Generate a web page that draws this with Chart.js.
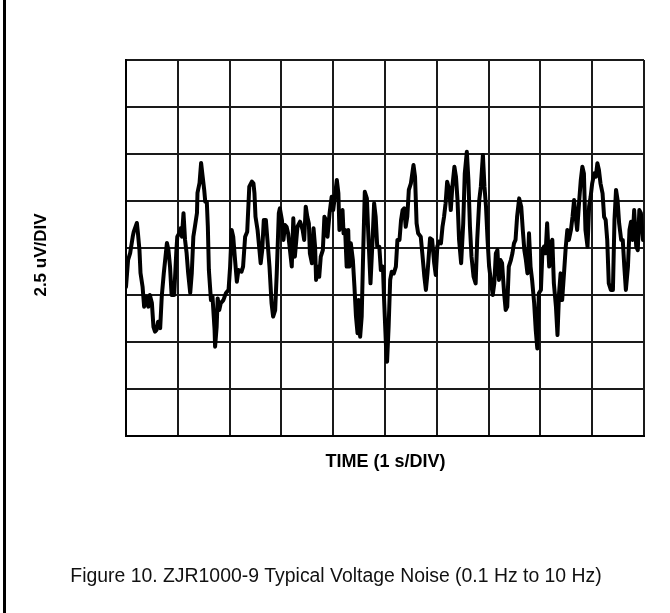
<!DOCTYPE html>
<html>
<head>
<meta charset="utf-8">
<title>ZJR1000-9 Voltage Noise</title>
<script src="https://cdn.jsdelivr.net/npm/chart.js@4.4.1/dist/chart.umd.min.js"></script>
<style>
  html, body { margin: 0; padding: 0; background: #fff; }
  #wrap { position: relative; width: 670px; height: 613px; }
</style>
</head>
<body>
<div id="wrap"><canvas id="noiseChart" width="670" height="613"></canvas></div>
<script>
// 0.1 Hz to 10 Hz noise capture, 10 s across the screen
const secPerDiv = 1;
const uvPerDiv = 2.5;
const xDivs = 10;
const yDivs = 8;

const xTitle = 'TIME (1 s/DIV)';
const yTitle = '2.5 uV/DIV';
const caption = 'Figure 10. ZJR1000-9 Typical Voltage Noise (0.1 Hz to 10 Hz)';

// sample times (s)
const timeSec = [
  0.00, 0.04, 0.08, 0.13, 0.15, 0.21, 0.23, 0.26, 0.28, 0.32,
  0.35, 0.39, 0.43, 0.46, 0.50, 0.53, 0.56, 0.59, 0.62, 0.66,
  0.69, 0.73, 0.79, 0.82, 0.85, 0.88, 0.93, 0.97, 0.99, 1.03,
  1.06, 1.08, 1.11, 1.14, 1.17, 1.20, 1.24, 1.27, 1.30, 1.33,
  1.37, 1.38, 1.42, 1.45, 1.48, 1.51, 1.53, 1.56, 1.58, 1.60,
  1.64, 1.67, 1.71, 1.72, 1.75, 1.77, 1.80, 1.83, 1.88, 1.93,
  1.98, 2.01, 2.04, 2.07, 2.10, 2.14, 2.17, 2.23, 2.26, 2.30,
  2.34, 2.38, 2.43, 2.46, 2.48, 2.50, 2.54, 2.57, 2.60, 2.63,
  2.66, 2.70, 2.73, 2.77, 2.81, 2.84, 2.88, 2.91, 2.95, 2.97,
  3.01, 3.04, 3.07, 3.10, 3.13, 3.20, 3.23, 3.26, 3.31, 3.36,
  3.41, 3.44, 3.47, 3.50, 3.53, 3.55, 3.59, 3.62, 3.65, 3.67,
  3.69, 3.73, 3.76, 3.80, 3.83, 3.86, 3.89, 3.93, 3.97, 4.00,
  4.04, 4.07, 4.10, 4.12, 4.15, 4.18, 4.20, 4.23, 4.26, 4.29,
  4.31, 4.34, 4.38, 4.41, 4.44, 4.47, 4.49, 4.52, 4.55, 4.58,
  4.61, 4.65, 4.68, 4.72, 4.76, 4.79, 4.82, 4.85, 4.89, 4.92,
  4.96, 4.98, 5.02, 5.04, 5.07, 5.10, 5.13, 5.17, 5.21, 5.24,
  5.28, 5.31, 5.34, 5.37, 5.40, 5.43, 5.46, 5.50, 5.55, 5.58,
  5.61, 5.64, 5.69, 5.72, 5.76, 5.79, 5.82, 5.87, 5.91, 5.95,
  5.98, 6.01, 6.04, 6.08, 6.11, 6.14, 6.17, 6.20, 6.24, 6.27,
  6.30, 6.34, 6.37, 6.40, 6.43, 6.47, 6.51, 6.54, 6.58, 6.61,
  6.64, 6.67, 6.71, 6.75, 6.78, 6.82, 6.85, 6.89, 6.92, 6.95,
  6.98, 7.01, 7.05, 7.08, 7.11, 7.14, 7.17, 7.20, 7.23, 7.26,
  7.30, 7.33, 7.36, 7.39, 7.43, 7.46, 7.49, 7.52, 7.55, 7.59,
  7.63, 7.66, 7.69, 7.72, 7.75, 7.78, 7.81, 7.84, 7.88, 7.91,
  7.94, 7.97, 8.01, 8.04, 8.07, 8.10, 8.13, 8.17, 8.20, 8.23,
  8.26, 8.30, 8.33, 8.36, 8.39, 8.42, 8.46, 8.49, 8.52, 8.55,
  8.59, 8.62, 8.65, 8.68, 8.71, 8.75, 8.78, 8.81, 8.84, 8.87,
  8.91, 8.94, 8.97, 9.00, 9.04, 9.07, 9.10, 9.13, 9.16, 9.20,
  9.23, 9.26, 9.29, 9.32, 9.36, 9.40, 9.43, 9.46, 9.49, 9.52,
  9.56, 9.59, 9.62, 9.65, 9.69, 9.72, 9.75, 9.78, 9.81, 9.85,
  9.88, 9.91, 9.94, 9.98, 10.00
];

// output noise (uV)
const noiseUv = [
  -2.06, -0.64, -0.27, 0.60, 0.87, 1.33, 0.80, -0.11, -1.33, -2.06,
  -3.12, -2.59, -3.12, -2.50, -2.93, -4.19, -4.45, -4.36, -3.92, -4.26,
  -2.59, -1.33, 0.27, -0.11, -0.99, -2.50, -2.50, -0.27, 0.60, 0.80,
  1.06, 0.60, 1.85, 0.43, -0.27, -1.33, -2.39, -1.33, 0.60, 1.13,
  1.86, 2.93, 3.46, 4.52, 3.79, 3.09, 2.46, 2.46, 1.13, -1.17,
  -2.77, -2.59, -4.36, -5.25, -4.19, -2.68, -3.30, -2.93, -2.77, -2.39,
  -2.23, -0.99, 0.96, 0.60, -0.46, -1.79, -1.17, -1.26, -0.99, 0.60,
  0.87, 3.26, 3.53, 3.44, 2.91, 1.66, 0.96, 0.07, -0.81, -0.11,
  1.49, 1.49, 0.43, -0.99, -2.94, -3.65, -3.30, -1.35, 1.85, 2.11,
  1.49, 0.43, 1.22, 1.13, 0.78, -0.99, 1.58, -0.46, 1.13, 1.40,
  0.96, 0.43, 2.20, 1.66, 1.31, -0.28, -0.81, 1.05, 0.07, -1.70,
  -0.99, -1.53, -0.46, -0.11, 1.66, 1.49, 0.60, 1.85, 2.73, 2.02,
  2.91, 3.62, 2.91, 0.96, 1.66, 2.02, 0.78, 0.96, -0.99, 0.96,
  -0.99, 0.25, -0.64, -2.06, -3.65, -4.54, -2.77, -4.72, -3.65, -0.11,
  2.99, 2.64, 0.60, -1.88, 0.43, 2.38, 1.66, 0.07, 0.07, -1.17,
  -0.99, -2.59, -5.25, -6.05, -4.19, -1.70, -1.26, -1.35, -0.99, 0.43,
  0.43, 1.49, 2.02, 2.11, 1.13, 1.66, 3.09, 3.44, 4.41, 3.79,
  1.31, 0.78, 0.60, -0.28, -1.53, -2.23, -1.35, 0.52, 0.43, -0.81,
  -1.44, 0.07, 0.34, 0.25, 1.13, 1.66, 2.38, 3.53, 3.09, 2.02,
  3.26, 4.32, 3.79, 2.55, 0.43, -0.81, 1.31, 3.97, 5.12, 3.62,
  1.13, -0.46, -1.53, -1.88, 0.43, 2.55, 3.26, 4.95, 3.26, 2.20,
  0.43, -0.99, -1.88, -2.50, -1.88, -0.28, -0.11, -1.70, -0.64, -0.81,
  -2.41, -3.30, -3.12, -0.99, -0.64, -0.28, 0.25, 0.43, 1.66, 2.64,
  2.20, 0.96, -0.11, -0.64, -1.35, 0.78, -0.99, -1.70, -2.94, -4.36,
  -5.34, -2.41, -2.23, -0.11, 0.07, -0.28, 1.31, -0.99, 0.25, 0.43,
  -1.88, -3.12, -4.63, -2.41, -1.35, -2.77, -1.17, 0.07, 0.96, 0.43,
  0.96, 1.66, 2.55, 1.66, 0.96, 2.55, 3.62, 4.32, 3.97, 0.96,
  0.07, 2.20, 2.73, 3.44, 3.97, 3.79, 4.51, 4.15, 3.44, 2.91,
  1.66, 1.49, 0.43, -1.88, -2.23, -2.23, 1.49, 3.09, 2.55, 1.31,
  0.43, 0.43, -0.99, -2.23, -0.99, 0.96, 1.40, 0.43, 2.02, 0.07,
  -0.11, 2.02, 1.85, 0.43, 0.60
];

const points = timeSec.map((t, i) => ({ x: t, y: noiseUv[i] }));

// axis titles, figure caption and the page edge line
const labelsPlugin = {
  id: 'labels',
  afterDraw(chart) {
    const ctx = chart.ctx;
    const area = chart.chartArea;
    ctx.save();
    ctx.fillStyle = '#000';

    ctx.fillRect(3, 0, 3, chart.height);

    ctx.textAlign = 'center';
    ctx.textBaseline = 'middle';
    ctx.font = 'bold 18px "Liberation Sans", Arial, sans-serif';
    ctx.fillText(xTitle, (area.left + area.right) / 2 + 0.5, area.bottom + 26);

    ctx.save();
    ctx.translate(41, (area.top + area.bottom) / 2 + 7);
    ctx.rotate(-Math.PI / 2);
    ctx.font = 'bold 17px "Liberation Sans", Arial, sans-serif';
    ctx.fillText(yTitle, 0, 0);
    ctx.restore();

    ctx.font = '19.4px "Liberation Sans", Arial, sans-serif';
    ctx.fillStyle = '#111';
    ctx.fillText(caption, 336, 577);
    ctx.restore();
  }
};

new Chart(document.getElementById('noiseChart'), {
  type: 'scatter',
  data: {
    datasets: [{
      data: points,
      showLine: true,
      borderColor: '#000',
      borderWidth: 4,
      borderJoinStyle: 'round',
      borderCapStyle: 'round',
      pointRadius: 0,
      tension: 0
    }]
  },
  options: {
    responsive: false,
    animation: false,
    layout: { padding: { left: 126, right: 26, top: 60, bottom: 177 } },
    plugins: {
      legend: { display: false },
      tooltip: { enabled: false }
    },
    scales: {
      x: {
        type: 'linear',
        min: 0,
        max: xDivs * secPerDiv,
        ticks: { display: false, stepSize: secPerDiv },
        grid: { color: '#1a1a1a', lineWidth: 2, drawTicks: false },
        border: { color: '#000', width: 2 }
      },
      y: {
        type: 'linear',
        min: -yDivs / 2 * uvPerDiv,
        max: yDivs / 2 * uvPerDiv,
        ticks: { display: false, stepSize: uvPerDiv },
        grid: { color: '#1a1a1a', lineWidth: 2, drawTicks: false },
        border: { color: '#000', width: 2 }
      }
    }
  },
  plugins: [labelsPlugin]
});
</script>
</body>
</html>
